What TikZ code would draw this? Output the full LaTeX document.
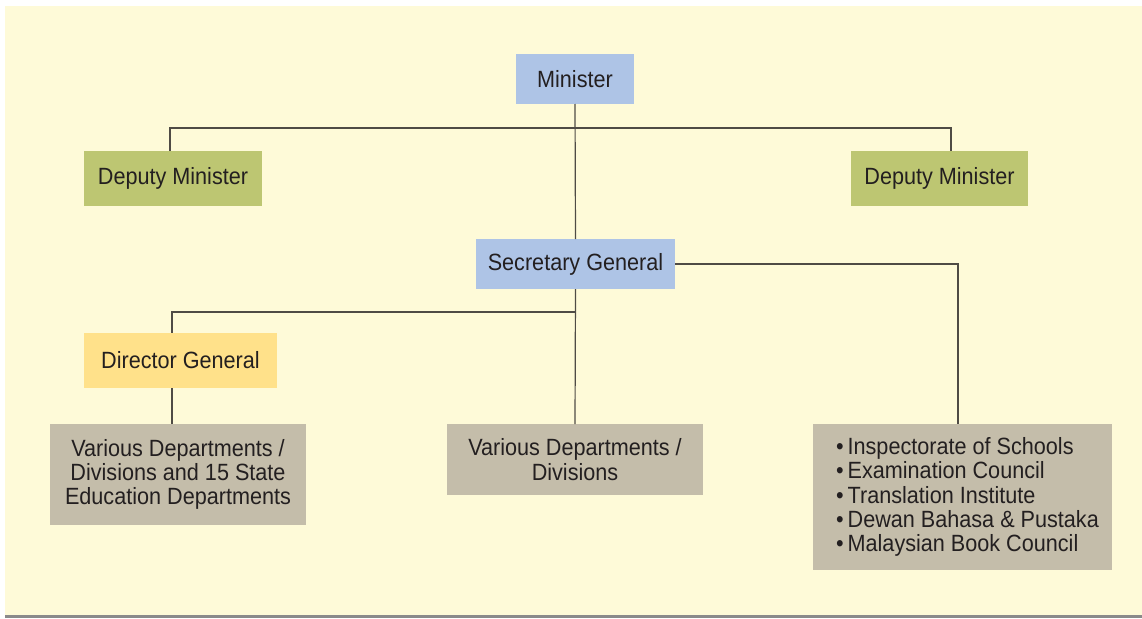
\documentclass[tikz,border=0pt]{standalone}
\usepackage{fontspec}
\setmainfont{Liberation Sans}[FakeStretch=0.92]
\definecolor{bgyellow}{HTML}{FEFAD8}
\definecolor{boxblue}{HTML}{AEC4E6}
\definecolor{boxgreen}{HTML}{BDC672}
\definecolor{boxyellow}{HTML}{FFE18A}
\definecolor{boxgray}{HTML}{C4BDAA}
\definecolor{linecol}{HTML}{4F4B45}
\definecolor{txtcol}{HTML}{231F20}
\definecolor{rulegray}{HTML}{8A8A8A}
\newcommand{\itm}{\hspace*{10pt}\textbullet\,}
\begin{document}
\begin{tikzpicture}[x=1pt,y=-1pt,
  orgbox/.style={inner sep=0pt, outer sep=0pt, text=txtcol,
    font=\fontsize{23.5}{24.3}\selectfont, align=center},
  conn/.style={draw=linecol, line width=1.2pt}]
\useasboundingbox (0,0) rectangle (1142,618);
\fill[bgyellow] (5,6) rectangle (1142,615);
\fill[rulegray] (5,615) rectangle (1142,618);

\node[orgbox, fill=boxblue, minimum width=118pt, minimum height=50pt] (min) at (575,79) {Minister};
\node[orgbox, fill=boxgreen, minimum width=178pt, minimum height=55pt] (dm1) at (173,178.5) {Deputy Minister};
\node[orgbox, fill=boxgreen, minimum width=177pt, minimum height=55pt] (dm2) at (939.5,178.5) {Deputy Minister};
\node[orgbox, fill=boxblue, minimum width=199pt, minimum height=50pt] (sg) at (575.5,264) {Secretary General};
\node[orgbox, fill=boxyellow, minimum width=193pt, minimum height=55pt] (dg) at (180.5,360.5) {Director General};
\node[orgbox, fill=boxgray, minimum width=256pt, minimum height=101pt] (v1) at (178,474.5) {Various Departments /\\Divisions and 15 State\\Education Departments};
\node[orgbox, fill=boxgray, minimum width=256pt, minimum height=71pt] (v2) at (575,459.5) {Various Departments /\\Divisions};
\node[orgbox, fill=boxgray, minimum width=299pt, minimum height=146pt, align=left] (v3) at (962.5,497) {\itm Inspectorate of Schools\\\itm Examination Council\\\itm Translation Institute\\\itm Dewan Bahasa \& Pustaka\\\itm Malaysian Book Council};

\coordinate (j1) at (575,128);
\coordinate (j2) at (575,312);

\draw[conn] (min.south) -- (sg.north);
\draw[conn] (sg.south) -- (v2.north);
\draw[conn] ([xshift=-3pt]dm1.north) |- (j1) -| ([xshift=11.5pt]dm2.north);
\draw[conn] (sg.east) -| ([xshift=-4.5pt]v3.north);
\draw[conn] (j2) -| ([xshift=-8.5pt]dg.north);
\draw[conn] ([xshift=-8.5pt]dg.south) -- ([xshift=-6pt]v1.north);
\end{tikzpicture}
\end{document}
